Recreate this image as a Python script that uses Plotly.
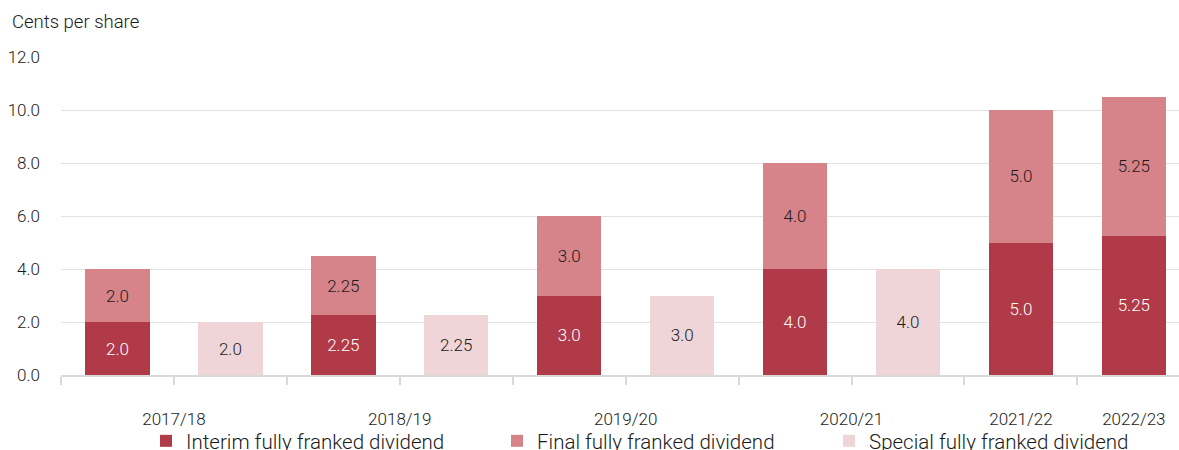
import plotly.graph_objects as go

years = ["2017/18", "2018/19", "2019/20", "2020/21", "2021/22", "2022/23"]
interim = [2.0, 2.25, 3.0, 4.0, 5.0, 5.25]
final = [2.0, 2.25, 3.0, 4.0, 5.0, 5.25]
special = [2.0, 2.25, 3.0, 4.0, None, None]
series_names = ["Interim fully franked dividend", "Final fully franked dividend",
                "Special fully franked dividend"]

C_INT = "#B03A48"
C_FIN = "#D6848A"
C_SPE = "#F0D5D8"
FONT = "Roboto"
W8 = 300
TXT = "#1a1a1a"

def fmt(v):
    return f"{v:.2f}" if round(v * 100) % 10 else f"{v:.1f}"

# slot layout: each year has a stacked slot and, if present, a special slot
main_x, spec_x, spec_v, label_x, bounds = [], [], [], [], [-0.5]
pos = 0
for y, s in zip(years, special):
    main_x.append(pos)
    if s is not None:
        spec_x.append(pos + 1)
        spec_v.append(s)
        label_x.append(pos + 0.5)
        pos += 2
    else:
        label_x.append(pos)
        pos += 1
bounds += [b + 0.5 for b in range(pos)]

fig = go.Figure()
W = 0.57
common = dict(width=W, textposition="inside", insidetextanchor="middle",
              textangle=0, cliponaxis=False)
fig.add_bar(x=main_x, y=interim, name=series_names[0], legend="legend",
            marker=dict(color=C_INT, line=dict(width=0)),
            text=[fmt(v) for v in interim],
            textfont=dict(color="white", size=17, family=FONT, weight=W8), **common)
fig.add_bar(x=main_x, y=final, name=series_names[1], legend="legend2",
            marker=dict(color=C_FIN, line=dict(width=0)),
            text=[fmt(v) for v in final],
            textfont=dict(color=TXT, size=17, family=FONT, weight=W8), **common)
fig.add_bar(x=spec_x, y=spec_v, name=series_names[2], legend="legend3",
            marker=dict(color=C_SPE, line=dict(width=0)),
            text=[fmt(v) for v in spec_v],
            textfont=dict(color=TXT, size=17, family=FONT, weight=W8), **common)

leg = dict(orientation="h", xref="container", yref="container", xanchor="left",
           yanchor="middle", y=1 - 441 / 450,
           font=dict(size=20.5, color=TXT, family=FONT, weight=W8),
           bgcolor="rgba(0,0,0,0)")

fig.update_layout(
    width=1179, height=450,
    margin=dict(l=61, r=0, t=57, b=75, autoexpand=False),
    barmode="stack",
    plot_bgcolor="white", paper_bgcolor="white",
    font=dict(family=FONT, color=TXT, size=17, weight=W8),
    uniformtext=dict(mode="show", minsize=17),
    xaxis=dict(
        range=[-0.5, 9.4], tickmode="array", tickvals=label_x, ticktext=years,
        ticks="", showgrid=False, zeroline=False,
        showline=True, linecolor="#d9d9d9", linewidth=2,
        tickfont=dict(size=17, color=TXT, family=FONT, weight=W8),
        ticklabelstandoff=28,
        minor=dict(tickmode="array", tickvals=bounds, ticks="outside",
                   ticklen=8, tickwidth=2, tickcolor="#d9d9d9", showgrid=False),
    ),
    yaxis=dict(
        range=[0, 12], dtick=2, tickformat=".1f", ticks="",
        showgrid=True, gridcolor="#e2e2e2", gridwidth=1, zeroline=False,
        tickfont=dict(size=17, color=TXT, family=FONT, weight=W8),
        ticklabelstandoff=20,
    ),
    legend=dict(leg, x=146 / 1179),
    legend2=dict(leg, x=497 / 1179),
    legend3=dict(leg, x=829 / 1179),
    showlegend=True,
    annotations=[dict(text="Cents per share", xref="paper", yref="paper",
                      x=-51 / 1118, y=1 + 35 / 318, xanchor="left", yanchor="middle",
                      showarrow=False,
                      font=dict(size=18.5, color=TXT, family=FONT, weight=W8))],
)

fig.write_html("out.html", config={"displayModeBar": False},
               post_script="document.body.style.margin='0';document.body.style.overflow='hidden';")
